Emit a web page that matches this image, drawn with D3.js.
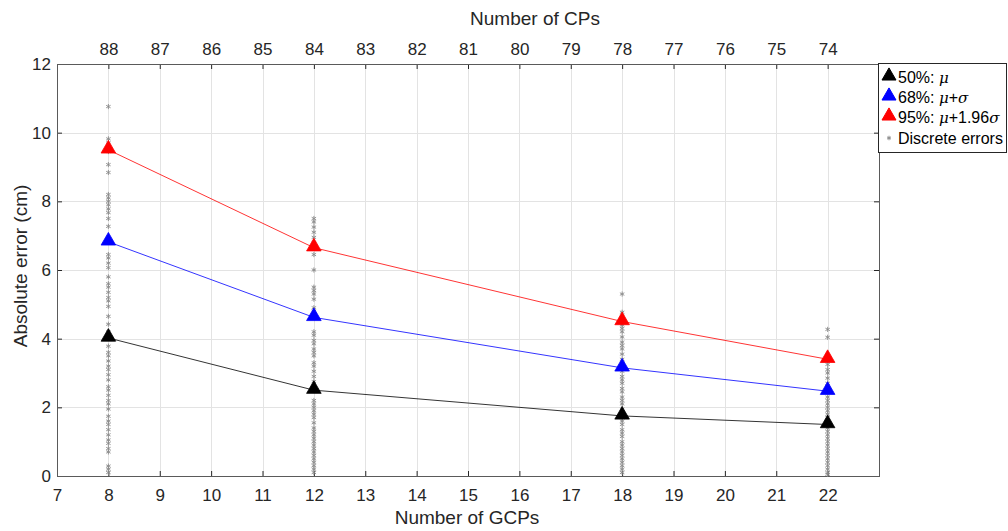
<!DOCTYPE html>
<html>
<head>
<meta charset="utf-8">
<script src="https://cdn.jsdelivr.net/npm/d3@7"></script>
<style>
  body { margin: 0; background: #fff; }
  svg { font-family: "Liberation Sans", Arial, sans-serif; }
</style>
</head>
<body>
<svg id="chart" width="1008" height="531"></svg>
<script>
// number of GCPs on the bottom axis, CPs on the top
const gcps = [8, 12, 18, 22];
const cpTicks = [88, 87, 86, 85, 84, 83, 82, 81, 80, 79, 78, 77, 76, 75, 74];

const p50 = [4.02, 2.5, 1.75, 1.5];
const p68 = [6.82, 4.62, 3.15, 2.47];
const p95 = [9.5, 6.65, 4.5, 3.4];

// discrete errors
const err8 = [10.76, 9.82, 9.7, 9.55, 9.45, 9.07, 8.84, 8.2, 8.1, 8.0, 7.9, 7.78, 7.67, 7.5, 7.27,
  6.45, 6.35, 6.2, 6.07, 5.8, 5.6, 5.5, 5.35, 5.2, 5.1, 4.94, 4.65, 4.42, 4.2, 4.1, 3.78, 3.6, 3.5,
  3.35, 3.2, 3.1, 2.95, 2.8, 2.6, 2.5, 2.35, 2.2, 2.1, 1.95, 1.74, 1.6, 1.5, 1.35, 1.2, 1.05, 0.95,
  0.8, 0.7, 0.29, 0.2, 0.1];
const err12 = [7.5, 7.4, 7.25, 7.1, 6.95, 6.8, 6.7, 6.45, 6.0, 5.5, 5.4, 5.3, 5.15, 4.9, 4.8,
  4.2, 4.1, 3.95, 3.85, 3.7, 3.6, 3.5, 3.3, 3.2, 3.05, 2.9, 2.75, 2.6, 2.2, 2.1, 2.0, 1.9, 1.8,
  1.7, 1.55, 1.4, 1.3, 1.2, 1.1, 1.0, 0.9, 0.8, 0.7, 0.6, 0.5, 0.4, 0.3, 0.2, 0.1];
const err18 = [5.3, 4.77, 4.65, 4.55, 4.4, 4.3, 4.2, 4.05, 3.9, 3.8, 3.7, 3.55, 3.4, 3.3, 3.2,
  3.05, 2.9, 2.8, 2.7, 2.55, 2.45, 2.3, 2.2, 2.1, 1.95, 1.85, 1.7, 1.6, 1.5, 1.35, 1.25, 1.15,
  1.0, 0.9, 0.8, 0.7, 0.6, 0.5, 0.4, 0.3, 0.2, 0.1];
const err22 = [4.27, 4.04, 3.5, 3.4, 3.25, 3.1, 3.0, 2.85, 2.7, 2.6, 2.3, 2.2, 2.1, 2.0, 1.9,
  1.8, 1.7, 1.6, 1.5, 1.4, 1.3, 1.2, 1.1, 1.0, 0.9, 0.8, 0.7, 0.6, 0.5, 0.4, 0.3, 0.2, 0.1, 0.05];

const errors = [err8, err12, err18, err22];

const margin = {left: 57, right: 129, top: 64, bottom: 55};
const W = 1008, H = 531;

const svg = d3.select('#chart');

const x = d3.scaleLinear().domain([7, 23]).range([margin.left, W - margin.right]);
const xTop = d3.scaleLinear().domain([89, 73]).range([margin.left, W - margin.right]);
const y = d3.scaleLinear().domain([0, 12]).range([H - margin.bottom, margin.top]);

const x0 = x.range()[0], x1 = x.range()[1], y0 = y.range()[0], y1 = y.range()[1];

// grid
const grid = svg.append('g').attr('stroke', '#e3e3e3').attr('stroke-width', 1);
grid.selectAll('.gx')
  .data(d3.range(8, 23))
  .join('line')
  .attr('x1', function(d){ return Math.round(x(d)) + 0.5; })
  .attr('x2', function(d){ return Math.round(x(d)) + 0.5; })
  .attr('y1', y1).attr('y2', y0);
grid.selectAll('.gy')
  .data(d3.range(2, 12, 2))
  .join('line')
  .attr('y1', function(d){ return Math.round(y(d)) + 0.5; })
  .attr('y2', function(d){ return Math.round(y(d)) + 0.5; })
  .attr('x1', x0).attr('x2', x1);

// axes, MATLAB style: ticks pointing in
function styleAxis(g) {
  g.select('.domain').remove();
  g.selectAll('.tick line').attr('stroke', '#262626');
  g.selectAll('.tick text').attr('fill', '#262626').attr('font-size', 17);
}

svg.append('g')
  .attr('transform', 'translate(0,' + y0 + ')')
  .call(d3.axisBottom(x).tickValues(d3.range(7, 23)).tickFormat(d3.format('d')).tickSizeInner(-5).tickPadding(13))
  .call(styleAxis);

svg.append('g')
  .attr('transform', 'translate(0,' + y1 + ')')
  .call(d3.axisTop(xTop).tickValues(cpTicks).tickFormat(d3.format('d')).tickSizeInner(-5).tickPadding(9))
  .call(styleAxis);

svg.append('g')
  .attr('transform', 'translate(' + x0 + ',0)')
  .call(d3.axisLeft(y).tickValues(d3.range(0, 13, 2)).tickSizeInner(-5).tickPadding(6))
  .call(styleAxis);

svg.append('g')
  .attr('transform', 'translate(' + x1 + ',0)')
  .call(d3.axisRight(y).tickValues(d3.range(0, 13, 2)).tickSizeInner(-5).tickFormat(''))
  .call(styleAxis);

// box
svg.append('rect')
  .attr('x', x0 + 0.5).attr('y', y1 + 0.5)
  .attr('width', x1 - x0).attr('height', y0 - y1)
  .attr('fill', 'none').attr('stroke', '#5a5a5a');

// axis titles
svg.append('text')
  .attr('x', 467).attr('y', 524)
  .attr('text-anchor', 'middle').attr('font-size', 19).attr('fill', '#262626')
  .text('Number of GCPs');
svg.append('text')
  .attr('x', 535).attr('y', 25)
  .attr('text-anchor', 'middle').attr('font-size', 19).attr('fill', '#262626')
  .text('Number of CPs');
svg.append('text')
  .attr('transform', 'translate(27,266) rotate(-90)')
  .attr('text-anchor', 'middle').attr('font-size', 19).attr('fill', '#262626')
  .text('Absolute error (cm)');

// discrete errors
const star = d3.symbol().type(d3.symbolAsterisk).size(18);
const pts = [];
errors.forEach(function(list, i){
  list.forEach(function(v){ pts.push({x: gcps[i], y: v}); });
});
svg.append('g').selectAll('path')
  .data(pts)
  .join('path')
  .attr('d', star)
  .attr('transform', function(d){ return 'translate(' + x(d.x) + ',' + y(d.y) + ')'; })
  .attr('fill', 'none').attr('stroke', '#8a8a8a').attr('stroke-width', 0.9);

// percentile lines
const series = [
  {name: '50%', vals: p50, color: '#000000'},
  {name: '68%', vals: p68, color: '#0000ff'},
  {name: '95%', vals: p95, color: '#ff0000'}
];

const line = d3.line()
  .x(function(d, i){ return x(gcps[i]); })
  .y(function(d){ return y(d); });

const tri = d3.symbol().type(d3.symbolTriangle).size(92);

series.forEach(function(s){
  svg.append('path')
    .attr('d', line(s.vals))
    .attr('fill', 'none').attr('stroke', s.color).attr('stroke-width', 0.8);
  svg.append('g').selectAll('path')
    .data(s.vals)
    .join('path')
    .attr('d', tri)
    .attr('transform', function(d, i){ return 'translate(' + x(gcps[i]) + ',' + (y(d) - 1) + ')'; })
    .attr('fill', s.color).attr('stroke', s.color).attr('stroke-width', 0.8);
});

// legend
const lg = svg.append('g').attr('transform', 'translate(878,63)');
lg.append('rect')
  .attr('x', 0.5).attr('y', 0.5).attr('width', 128).attr('height', 89)
  .attr('fill', '#fff').attr('stroke', '#262626');

const legendItems = [
  {color: '#000000', pre: '50%: ', parts: [['μ', true]]},
  {color: '#0000ff', pre: '68%: ', parts: [['μ', true], ['+', false], ['σ', true]]},
  {color: '#ff0000', pre: '95%: ', parts: [['μ', true], ['+1.96', false], ['σ', true]]}
];

legendItems.forEach(function(item, i){
  const cy = 14 + i * 20;
  lg.append('path')
    .attr('d', d3.symbol().type(d3.symbolTriangle).size(85))
    .attr('transform', 'translate(11,' + (cy - 1) + ')')
    .attr('fill', item.color).attr('stroke', item.color);
  const t = lg.append('text')
    .attr('x', 20).attr('y', cy + 6)
    .attr('font-size', 16).attr('fill', '#000');
  t.append('tspan').text(item.pre);
  item.parts.forEach(function(p){
    t.append('tspan')
      .attr('font-style', p[1] ? 'italic' : 'normal')
      .attr('font-family', p[1] ? '"DejaVu Serif", serif' : null)
      .attr('font-size', p[1] ? 15 : null)
      .text(p[0]);
  });
});

lg.append('path')
  .attr('d', d3.symbol().type(d3.symbolAsterisk).size(14))
  .attr('transform', 'translate(11,75)')
  .attr('fill', 'none').attr('stroke', '#8a8a8a');
lg.append('text')
  .attr('x', 20).attr('y', 81)
  .attr('font-size', 16).attr('fill', '#000')
  .text('Discrete errors');
</script>
</body>
</html>
